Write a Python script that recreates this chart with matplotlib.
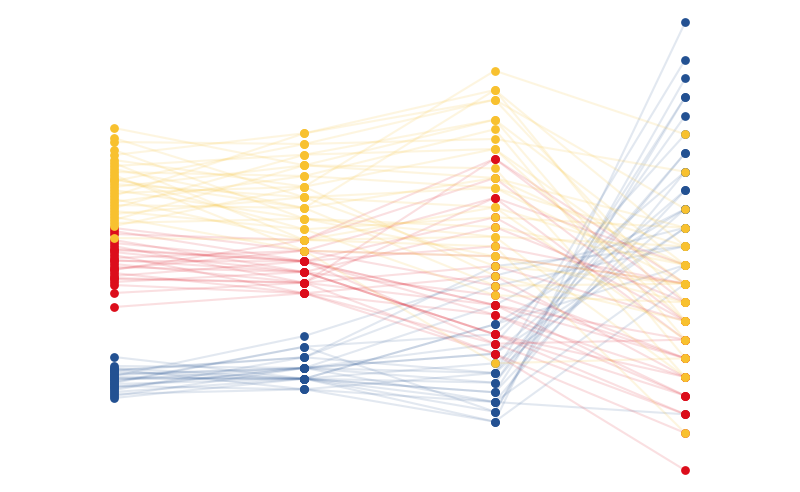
import matplotlib
matplotlib.use('Agg')
import matplotlib.pyplot as plt
import numpy as np

# four variables, one value per observation on a shared vertical scale
yellow_a1 = [35.2, 34.2, 33.8, 33.0, 32.5, 32.0, 31.7, 31.4, 31.1, 30.8, 30.5, 30.2, 29.9, 29.6, 29.3,
             29.0, 28.7, 28.4, 28.1, 27.8, 27.5, 27.2, 26.9, 26.6, 26.3, 26.0, 25.7, 25.4, 24.2, 30.0]
yellow_a2 = [31.47, 28.27, 33.6, 26.13, 34.67, 29.33, 24.0, 32.53, 27.2, 30.4, 22.93, 25.07, 33.6, 28.27, 31.47,
             26.13, 29.33, 34.67, 24.0, 30.4, 27.2, 32.53, 25.07, 28.27, 22.93, 31.47, 26.13, 29.33, 24.0, 27.2]
yellow_a3 = [36.03, 29.23, 38.03, 24.33, 39.0, 40.93, 27.27, 33.1, 30.2, 35.07, 22.37, 26.27, 34.1, 21.4, 31.17,
             25.3, 20.43, 38.03, 23.37, 29.23, 19.43, 36.03, 18.47, 27.27, 11.67, 30.2, 22.37, 33.1, 24.33, 39.0]
yellow_a4 = [21.5, 19.63, 17.77, 23.37, 15.9, 34.57, 14.03, 19.63, 21.5, 12.17, 17.77, 25.23, 30.83, 19.63, 10.3,
             21.5, 15.9, 27.1, 4.7, 23.37, 19.63, 14.03, 17.77, 21.5, 12.17, 25.23, 19.63, 15.9, 10.3, 23.37]

red_a1 = [25.2, 24.9, 24.6, 24.0, 23.7, 23.4, 23.1, 22.8, 22.5, 22.2, 21.9, 21.6, 21.3,
          21.0, 20.7, 20.4, 20.1, 19.8, 19.5, 18.7, 17.3, 23.0, 22.0, 21.1, 20.2]
red_a2 = [22.93, 21.87, 24.0, 20.8, 21.87, 19.73, 21.87, 20.8, 18.67, 22.93, 21.87, 19.73, 20.8,
          24.0, 18.67, 21.87, 19.73, 20.8, 18.67, 19.73, 18.67, 21.87, 20.8, 22.93, 19.73]
red_a3 = [28.23, 17.5, 32.13, 14.57, 16.53, 21.4, 13.63, 25.3, 12.63, 19.43, 17.5, 28.23, 14.57,
          30.2, 16.53, 23.37, 12.63, 18.47, 13.63, 32.13, 20.43, 26.27, 14.57, 22.37, 17.5]
red_a4 = [14.03, 12.17, 19.63, 8.43, 10.3, 15.9, 6.57, 17.77, 0.97, 12.17, 14.03, 21.5, 10.3,
          15.9, 8.43, 19.63, 4.7, 12.17, 14.03, 17.77, 10.3, 15.9, 6.57, 19.63, 8.43]

blue_a1 = [12.3, 11.4, 11.2, 11.0, 10.8, 10.6, 10.4, 10.2, 10.0, 9.8, 9.6, 9.4, 9.2,
           9.0, 8.8, 8.6, 8.4, 8.2, 10.9, 10.5, 10.1, 9.7, 9.3, 11.1, 10.3]
blue_a2 = [10.13, 11.2, 10.13, 12.27, 10.13, 11.2, 14.4, 10.13, 11.2, 13.33, 10.13, 9.07, 11.2,
           12.27, 10.13, 9.07, 11.2, 10.13, 12.27, 11.2, 10.13, 13.33, 11.2, 9.07, 10.13]
blue_a3 = [15.57, 10.7, 8.77, 19.43, 5.83, 12.63, 20.43, 9.73, 7.8, 14.57, 6.83, 7.8, 17.5,
           10.7, 11.67, 5.83, 13.63, 8.77, 21.4, 9.73, 15.57, 6.83, 12.63, 10.7, 7.8]
blue_a4 = [27.1, 32.7, 38.3, 23.37, 45.77, 28.97, 25.23, 36.43, 21.5, 30.83, 40.17, 6.57, 27.1,
           42.03, 25.23, 19.63, 34.57, 28.97, 23.37, 32.7, 21.5, 38.3, 25.23, 27.1, 30.83]

groups = [
    ('#235192', 0.13, [blue_a1, blue_a2, blue_a3, blue_a4]),
    ('#DC0D1B', 0.13, [red_a1, red_a2, red_a3, red_a4]),
    ('#F8C12F', 0.15, [yellow_a1, yellow_a2, yellow_a3, yellow_a4]),
]

fig = plt.figure(figsize=(8, 4.92), dpi=100)
ax = fig.add_axes([0, 0, 1, 1])
ax.axis('off')
ax.set_xlim(-0.599, 3.603)
ax.set_ylim(-1.2, 48)

xs = np.arange(4)

# lines first, then the dots on top
for color, alpha, cols in groups:
    data = np.array(cols).T
    for row in data:
        ax.plot(xs, row, color=color, alpha=alpha, lw=1.5, zorder=1)

for color, alpha, cols in groups:
    for i, col in enumerate(cols):
        ax.scatter(np.full(len(col), xs[i]), col, s=40, color=color, zorder=3, linewidths=0)

plt.savefig('out.png', dpi=100, facecolor='white')
plt.close()
